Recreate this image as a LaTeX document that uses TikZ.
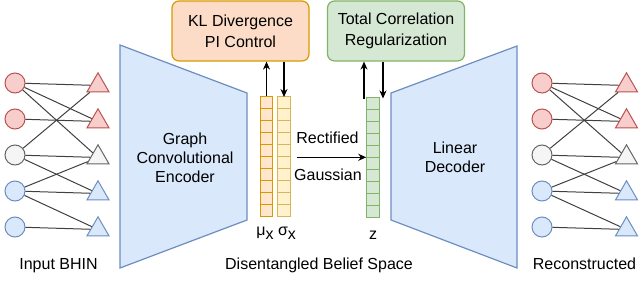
\documentclass[tikz,border=0pt]{standalone}
\usepackage{fontspec}
\setmainfont{Liberation Sans}
\usetikzlibrary{shapes.geometric,arrows.meta}
\definecolor{redF}{HTML}{F8CECC}\definecolor{redD}{HTML}{B85450}
\definecolor{grayF}{HTML}{F5F5F5}\definecolor{grayD}{HTML}{666666}
\definecolor{blueF}{HTML}{DAE8FC}\definecolor{blueD}{HTML}{6C8EBF}
\definecolor{orF}{HTML}{FFE6CC}\definecolor{orD}{HTML}{D79B00}
\definecolor{klF}{HTML}{FCDCC6}
\definecolor{yeF}{HTML}{FFF2CC}\definecolor{yeD}{HTML}{D6B656}
\definecolor{grF}{HTML}{D5E8D4}\definecolor{grD}{HTML}{82B366}
\begin{document}
\begin{tikzpicture}[x=1pt,y=-1pt,
  vtx/.style={circle,draw,line width=1pt,minimum size=20pt,inner sep=0pt},
  tri/.style={regular polygon,regular polygon sides=3,draw,line width=1pt,minimum size=25.4pt,inner sep=0pt},
  cr/.style={draw=redD,fill=redF},
  cg/.style={draw=grayD,fill=grayF},
  cb/.style={draw=blueD,fill=blueF},
  edge/.style={draw=black!75,line width=1pt},
  lbl/.style={font=\fontsize{16}{19.4}\selectfont,align=center,inner sep=0pt},
  blk/.style={draw=blueD,fill=blueF,line width=1.2pt},
  boxn/.style={rounded corners=7pt,line width=1.2pt,minimum width=137pt,minimum height=60pt,align=center,inner sep=0pt,font=\fontsize{16}{20.6}\selectfont},
  cell/.style={draw,line width=1pt,minimum width=12.5pt,minimum height=12pt,inner sep=0pt},
  arr/.style={-{Stealth[length=8pt,width=7pt]},line width=1.2pt}]
\useasboundingbox (0,0) rectangle (640,305);

% graphs
\foreach \p/\cx/\tx in {L/15/98,R/542/626.5}{
  \foreach \i/\y/\c in {1/83/cr,2/119/cr,3/155/cg,4/191/cb,5/227/cb}{
    \node[vtx,\c] (\p c\i) at (\cx,\y) {};
    \node[tri,\c] (\p t\i) at (\tx,\y+2.5) {};
  }
  \foreach \a/\b in {1/1,1/2,1/3,2/2,3/1,3/3,3/4,4/3,4/4,4/5,5/5}{
    \draw[edge] (\p c\a) -- (\p t\b);
  }
}

% encoder / decoder
\draw[blk] (120,45) -- (247,93) -- (247,220) -- (120,268) -- cycle;
\node[lbl] (enc) at (185,157.7) {Graph\\Convolutional\\Encoder};
\draw[blk] (391,93) -- (517,46) -- (517,268) -- (391,220) -- cycle;
\node[lbl] (dec) at (455,157.2) {Linear\\Decoder};

% top boxes
\node[boxn,draw=orD,fill=klF] (kl) at (240.5,31) {KL Divergence\\PI Control};
\node[boxn,draw=grD,fill=grF] (tc) at (396,31) {Total Correlation\\Regularization};

% columns
\foreach \i in {1,...,10}{
  \node[cell,draw=orD,fill=orF] (mu\i) at (266.5,96+6+12*\i-12) {};
  \node[cell,draw=yeD,fill=yeF] (sg\i) at (284,96+6+12*\i-12) {};
  \node[cell,draw=grD,fill=grF] (z\i) at (373,97+6+12*\i-12) {};
}

% arrows to boxes
\draw[arr] (mu1.north) -- (mu1.north |- kl.south);
\draw[arr] (sg1.north |- kl.south) -- ([yshift=-1.5pt]sg1.north);
\coordinate (zu) at ([xshift=-9pt,yshift=-2pt]z1.north);
\coordinate (zd) at ([xshift=10pt,yshift=-2pt]z1.north);
\draw[arr] (zu) -- (zu |- tc.south);
\draw[arr] (zd |- tc.south) -- (zd);

% rectified gaussian
\coordinate (ra) at (296.5,157.3);
\draw[arr] (ra) -- (ra -| z5.west) ;
\node[lbl,anchor=base] (rect) at (327.5,143.3) {Rectified};
\node[lbl,anchor=base] (gaus) at (328,180) {Gaussian};

% column labels
\node[lbl,anchor=base] (mul) at (265,235.5) {μ\raisebox{-4pt}{x}};
\node[lbl,anchor=base] (sgl) at (287,235.5) {σ\raisebox{-4pt}{x}};
\node[lbl,anchor=base] (zl) at (373,239.3) {z};

% bottom labels
\node[lbl,anchor=base] (inl) at (58.5,269) {Input BHIN};
\node[lbl,anchor=base] (dbl) at (319,269) {Disentangled Belief Space};
\node[lbl,anchor=base] (rcl) at (584.5,269) {Reconstructed};
\end{tikzpicture}
\end{document}
